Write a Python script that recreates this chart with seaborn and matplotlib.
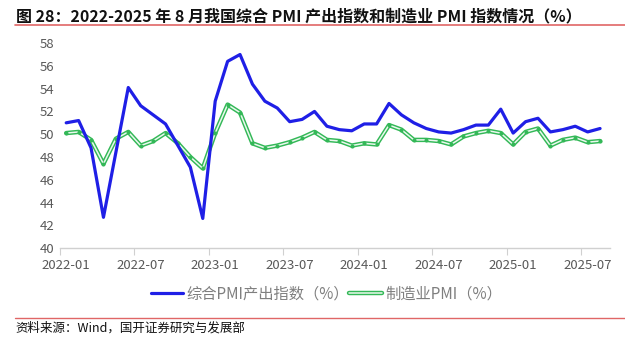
import numpy as np
import pandas as pd
import matplotlib
matplotlib.use("Agg")
import matplotlib.pyplot as plt
import seaborn as sns
from matplotlib.lines import Line2D

months = pd.date_range("2022-01-01", "2025-08-01", freq="MS").strftime("%Y-%m").tolist()

composite_pmi = [
    51.0, 51.2, 48.8, 42.7, 48.4, 54.1, 52.5, 51.7, 50.9, 49.0, 47.1, 42.6,
    52.9, 56.4, 57.0, 54.4, 52.9, 52.3, 51.1, 51.3, 52.0, 50.7, 50.4, 50.3,
    50.9, 50.9, 52.7, 51.7, 51.0, 50.5, 50.2, 50.1, 50.4, 50.8, 50.8, 52.2,
    50.1, 51.1, 51.4, 50.2, 50.4, 50.7, 50.2, 50.5,
]
manufacturing_pmi = [
    50.1, 50.2, 49.5, 47.4, 49.6, 50.2, 49.0, 49.4, 50.1, 49.2, 48.0, 47.0,
    50.1, 52.6, 51.9, 49.2, 48.8, 49.0, 49.3, 49.7, 50.2, 49.5, 49.4, 49.0,
    49.2, 49.1, 50.8, 50.4, 49.5, 49.5, 49.4, 49.1, 49.8, 50.1, 50.3, 50.1,
    49.1, 50.2, 50.5, 49.0, 49.5, 49.7, 49.3, 49.4,
]
series_names = ["综合PMI产出指数（%）", "制造业PMI（%）"]
title_text = "图 28：2022-2025 年 8 月我国综合 PMI 产出指数和制造业 PMI 指数情况（%）"
source_text = "资料来源：Wind，国开证券研究与发展部"

sns.set_theme(style="white")
plt.rcParams["font.family"] = ["Noto Sans CJK SC", "DejaVu Sans"]

df = pd.DataFrame({
    "idx": np.arange(len(months)),
    "month": months,
    series_names[0]: composite_pmi,
    series_names[1]: manufacturing_pmi,
})

fig = plt.figure(figsize=(6.25, 3.45), dpi=100)
ax = fig.add_axes([0.096, 0.281, 0.880, 0.594])

blue = "#1f1fe6"
green = "#33b857"
inner = "#eaf8ee"

sns.lineplot(data=df, x="idx", y=series_names[1], ax=ax, color=green, lw=3.2, zorder=2)
sns.lineplot(data=df, x="idx", y=series_names[1], ax=ax, color=inner, lw=1.1, zorder=3,
             marker="o", markersize=2.2, markerfacecolor=green, markeredgecolor=green)
sns.lineplot(data=df, x="idx", y=series_names[0], ax=ax, color=blue, lw=2.3, zorder=4)

ax.set_xlim(-0.5, len(months) - 0.5 + 0.3)
ax.set_ylim(40, 58)
ax.set_yticks(np.arange(40, 59, 2))
ax.set_yticklabels([str(v) for v in range(40, 59, 2)], color="#595959", fontsize=9.5)

# tick marks at category boundaries, labels at every 6th month
ax.set_xticks(np.arange(-0.5, len(months), 6))
ax.set_xticklabels([])
ax.set_xticks(np.arange(0, len(months), 6), minor=True)
ax.set_xticklabels([months[i] for i in range(0, len(months), 6)], minor=True,
                   color="#595959", fontsize=9.5)
ax.tick_params(axis="x", which="major", length=5, width=0.8, color="#d0d0d0", direction="out", bottom=True)
ax.tick_params(axis="x", which="minor", length=0, pad=8)
ax.tick_params(axis="y", length=0, pad=4)
ax.set_xlabel("")
ax.set_ylabel("")
for s in ["left", "right", "top"]:
    ax.spines[s].set_visible(False)
ax.spines["bottom"].set_color("#d0d0d0")
ax.spines["bottom"].set_linewidth(1.0)
ax.grid(False)
if ax.get_legend() is not None:
    ax.get_legend().remove()

# legend
h1 = Line2D([], [], color=blue, lw=2.3)
h2a = Line2D([], [], color=green, lw=3.2)
h2b = Line2D([], [], color=inner, lw=1.1)
leg = fig.legend([h1, (h2a, h2b)], series_names, loc="center", bbox_to_anchor=(0.522, 0.148),
                 ncol=2, frameon=False, fontsize=11, handlelength=2.15, handletextpad=0.2,
                 columnspacing=0.0, labelcolor="#7f7f7f")

# title and source
fig.text(0.025, 0.952, title_text, fontsize=11.5, fontweight="bold", color="#111111",
         ha="left", va="center")
fig.add_artist(Line2D([0.024, 1.0], [0.927, 0.927], color="#e06666", lw=1.2))
fig.add_artist(Line2D([0.024, 1.0], [0.078, 0.078], color="#e06666", lw=1.0))
fig.text(0.025, 0.048, source_text, fontsize=9, color="#111111", ha="left", va="center")

fig.savefig("out.png", dpi=100)
